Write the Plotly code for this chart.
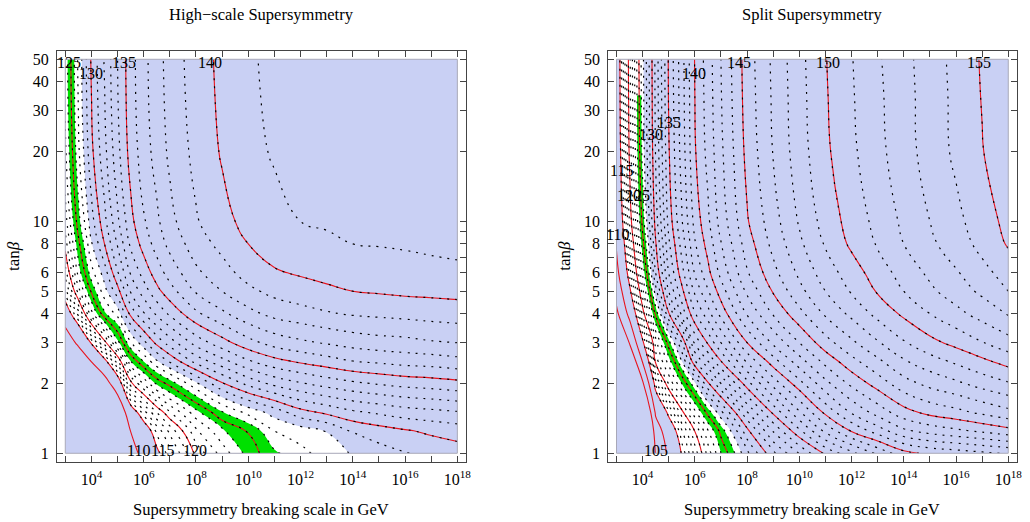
import numpy as np
import plotly.graph_objects as go

# ---------------- data ----------------
LOG_MS = [3, 3.5, 4, 4.5, 5, 5.5, 6, 6.5, 7, 8, 9, 10, 11, 12, 13, 14, 15, 16, 17, 18]
TANB_LEFT = [1, 1.25, 1.5, 2, 2.5, 3, 4, 5, 6, 8, 10, 20, 50]
TANB_RIGHT = [1, 1.25, 1.5, 2, 2.5, 3, 4, 5, 6, 8, 10, 20, 35, 50]

# Higgs mass (GeV): one list per log10(M_S) column, ordered like TANB_LEFT
MH_LEFT_COLS = [
    [70.0, 74.1, 80.5, 92.4, 100.8, 106.5, 113.1, 116.5, 118.5, 120.5, 121.5, 122.8, 123.3],
    [76.0, 79.9, 86.1, 97.5, 105.6, 111.1, 117.4, 121.5, 123.4, 124.7, 125.6, 126.8, 127.25],
    [83.0, 86.6, 92.3, 102.8, 110.3, 115.3, 122.6, 125.2, 126.6, 127.9, 128.6, 129.75, 130.15],
    [90.0, 93.2, 98.3, 107.7, 114.3, 119.5, 125.8, 127.6, 128.5, 130.0, 130.7, 131.7, 132.1],
    [98.0, 100.7, 105.1, 113.1, 118.8, 123.6, 127.4, 129.6, 130.9, 132.1, 132.8, 133.7, 134.0],
    [108.0, 110.1, 113.4, 119.6, 124.0, 126.9, 130.3, 132.1, 133.1, 134.2, 134.7, 135.4, 135.6],
    [111.5, 113.4, 116.5, 122.1, 126.1, 128.7, 131.9, 133.5, 134.4, 135.4, 135.9, 136.5, 136.7],
    [114.5, 116.3, 119.0, 124.2, 127.9, 130.3, 133.2, 134.7, 135.5, 136.4, 136.8, 137.4, 137.6],
    [116.6, 118.3, 120.9, 125.4, 129.2, 131.5, 134.2, 135.6, 136.4, 137.3, 137.7, 138.2, 138.4],
    [120.3, 121.8, 123.6, 127.8, 131.4, 133.4, 135.8, 137.1, 137.8, 138.5, 138.9, 139.3, 139.5],
    [122.4, 123.8, 125.9, 129.9, 132.7, 134.6, 136.8, 138.0, 138.6, 139.3, 139.7, 140.1, 140.25],
    [124.4, 125.1, 127.3, 131.3, 133.9, 135.65, 137.7, 138.75, 139.4, 140.0, 140.3, 140.7, 140.85],
    [125.8, 127.0, 128.4, 132.3, 134.7, 136.4, 138.3, 139.3, 139.9, 140.45, 140.7, 141.1, 141.25],
    [126.7, 127.5, 129.6, 132.9, 135.2, 136.8, 138.6, 139.6, 140.1, 140.7, 141.0, 141.3, 141.45],
    [127.45, 128.05, 130.2, 133.4, 135.6, 137.1, 138.9, 139.8, 140.3, 140.85, 141.1, 141.5, 141.6],
    [128.1, 129.1, 130.8, 133.8, 136.0, 137.4, 139.1, 140.0, 140.5, 141.0, 141.25, 141.6, 141.7],
    [128.55, 129.55, 131.15, 134.1, 136.2, 137.6, 139.2, 140.1, 140.55, 141.05, 141.3, 141.65, 141.75],
    [128.95, 129.9, 131.5, 134.35, 136.4, 137.7, 139.3, 140.2, 140.65, 141.1, 141.4, 141.7, 141.8],
    [129.25, 130.2, 131.7, 134.5, 136.5, 137.9, 139.4, 140.25, 140.7, 141.2, 141.4, 141.75, 141.85],
    [129.5, 130.45, 131.9, 134.7, 136.7, 138.0, 139.5, 140.3, 140.8, 141.25, 141.5, 141.8, 141.9],
]

# ordered like TANB_RIGHT
MH_RIGHT_COLS = [
    [66.0, 69.6, 75.3, 85.7, 93.2, 98.1, 104.0, 106.9, 108.8, 110.4, 111.4, 112.6, 112.9, 113.0],
    [72.0, 75.7, 81.6, 92.45, 100.15, 105.3, 111.35, 114.4, 116.3, 118.0, 119.1, 120.3, 120.6, 120.7],
    [88.0, 90.9, 95.6, 104.25, 110.4, 114.5, 119.3, 121.7, 123.2, 124.6, 125.4, 126.4, 126.6, 126.7],
    [105.6, 107.55, 110.7, 116.4, 120.45, 121.5, 125.3, 127.6, 129.0, 129.9, 130.45, 131.1, 131.25, 131.3],
    [110.9, 112.7, 115.7, 121.1, 123.5, 125.6, 129.9, 132.0, 133.0, 133.8, 134.35, 134.9, 135.1, 135.15],
    [115.2, 116.9, 119.6, 124.0, 127.0, 129.0, 133.3, 134.7, 135.6, 136.4, 136.9, 137.4, 137.55, 137.6],
    [118.4, 120.05, 122.7, 126.8, 130.9, 133.2, 135.9, 137.2, 138.1, 138.9, 139.35, 139.9, 140.0, 140.06],
    [121.4, 122.9, 125.4, 129.8, 133.0, 135.15, 137.6, 138.9, 139.7, 140.4, 140.8, 141.3, 141.45, 141.5],
    [124.0, 125.4, 127.7, 132.0, 135.0, 137.0, 139.35, 140.5, 141.3, 141.95, 142.4, 142.8, 142.95, 143.0],
    [127.8, 129.7, 131.9, 135.6, 138.2, 140.0, 142.1, 143.2, 143.9, 144.5, 144.9, 145.3, 145.45, 145.5],
    [130.8, 133.1, 135.2, 138.4, 140.6, 142.2, 144.1, 145.1, 145.7, 146.3, 146.6, 147.05, 147.15, 147.2],
    [133.05, 135.8, 137.85, 140.65, 142.6, 144.0, 145.7, 146.7, 147.2, 147.8, 148.1, 148.55, 148.65, 148.7],
    [135.2, 138.25, 140.25, 142.7, 144.35, 145.6, 147.15, 148.0, 148.5, 149.1, 149.4, 149.8, 149.9, 149.95],
    [136.7, 140.1, 142.1, 144.25, 145.7, 146.8, 148.25, 149.1, 149.5, 150.2, 150.4, 150.8, 150.9, 150.95],
    [138.2, 141.5, 143.4, 145.45, 146.8, 147.9, 149.3, 150.1, 150.5, 151.1, 151.3, 151.7, 151.8, 151.87],
    [139.65, 142.8, 144.6, 146.6, 147.9, 148.9, 150.2, 151.0, 151.4, 152.0, 152.2, 152.6, 152.65, 152.7],
    [140.25, 143.4, 145.3, 147.3, 148.6, 149.7, 151.0, 151.8, 152.2, 152.8, 153.0, 153.4, 153.45, 153.5],
    [140.5, 143.8, 145.7, 147.8, 149.2, 150.3, 151.7, 152.5, 152.9, 153.5, 153.75, 154.2, 154.25, 154.3],
    [140.8, 144.2, 146.2, 148.4, 149.8, 150.95, 152.4, 153.2, 153.7, 154.3, 154.5, 154.95, 155.05, 155.1],
    [141.1, 144.65, 146.7, 148.9, 150.4, 151.6, 153.1, 154.0, 154.4, 155.1, 155.3, 155.75, 155.85, 155.9],
]

# contour labels
LEFT_LABEL_TEXT = ["125", "130", "135", "140", "110", "115", "120"]
LEFT_LABEL_LOGMS = [3.16, 3.98, 5.26, 8.55, 5.79, 6.72, 7.98]
LEFT_LABEL_TANB = [48.4, 43.3, 48.4, 48.4, 1.03, 1.03, 1.03]

RIGHT_LABEL_TEXT = ["105", "110", "115", "120", "125", "130", "135", "140", "145", "150", "155"]
RIGHT_LABEL_LOGMS = [4.52, 3.04, 3.19, 3.46, 3.84, 4.33, 5.0, 5.97, 7.68, 11.09, 16.89]
RIGHT_LABEL_TANB = [1.03, 8.81, 16.5, 12.9, 12.9, 23.8, 26.7, 43.3, 48.2, 48.2, 48.2]

X_TICKS = list(range(3, 19))
X_TICK_TEXT = ["" if p % 2 else "10<sup>%d</sup>" % p for p in X_TICKS]
Y_TICKS = [1, 2, 3, 4, 5, 6, 7, 8, 9, 10, 20, 30, 40, 50]
Y_TICK_TEXT = ["1", "2", "3", "4", "5", "6", "", "8", "", "10", "20", "30", "40", "50"]

GREEN_BAND = [124, 126]
LEFT_WHITE = [115, 128]
RIGHT_WHITE = [115, 127]
RIGHT_GREEN_MAX_TANB = 35

# ---------------- style ----------------
BLUE = "#c9d0f4"
GREEN = "#00e000"
RED = "#e8141e"
FONT = "Liberation Serif"

fig = go.Figure()


def add_panel(cols, tanb, white, red_start, xa, ya, green_rows):
    z = np.array(cols).T
    y = np.log10(tanb)
    common = dict(x=LOG_MS, xaxis=xa, yaxis=ya, showscale=False, hoverinfo="skip")
    fig.add_trace(go.Contour(
        y=y, z=z, autocontour=False,
        contours=dict(start=white[0], end=white[1], size=white[1] - white[0],
                      coloring="fill", showlines=False),
        colorscale=[[0, BLUE], [0.25, BLUE], [0.25, "white"], [0.75, "white"],
                    [0.75, BLUE], [1, BLUE]],
        line=dict(width=0, smoothing=1.3), **common))
    fig.add_trace(go.Contour(
        y=y[:green_rows], z=z[:green_rows], autocontour=False,
        contours=dict(type="constraint", operation="][", value=GREEN_BAND,
                      showlines=False),
        fillcolor=GREEN, line=dict(width=0, smoothing=1.3), **common))
    fig.add_trace(go.Contour(
        y=y, z=z, autocontour=False,
        contours=dict(start=red_start, end=160, size=5, coloring="none"),
        line=dict(color=RED, width=1.1, smoothing=1.3), **common))
    fig.add_trace(go.Contour(
        y=y, z=z, autocontour=False,
        contours=dict(start=115, end=160, size=1, coloring="none"),
        line=dict(color="black", width=1.2, dash="2px,6px", smoothing=1.3), **common))


add_panel(MH_LEFT_COLS, TANB_LEFT, LEFT_WHITE, 110, "x", "y", len(TANB_LEFT))
add_panel(MH_RIGHT_COLS, TANB_RIGHT, RIGHT_WHITE, 105, "x2", "y2",
          TANB_RIGHT.index(RIGHT_GREEN_MAX_TANB) + 1)

annotations = []
for texts, xs, ys, xr_, yr_ in [
    (LEFT_LABEL_TEXT, LEFT_LABEL_LOGMS, LEFT_LABEL_TANB, "x", "y"),
    (RIGHT_LABEL_TEXT, RIGHT_LABEL_LOGMS, RIGHT_LABEL_TANB, "x2", "y2"),
]:
    for t, lx, ty in zip(texts, xs, ys):
        annotations.append(dict(text=t, x=lx, y=float(np.log10(ty)), xref=xr_, yref=yr_,
                                xanchor="center", yanchor="middle", showarrow=False,
                                font=dict(family=FONT, size=16, color="black")))

for title, cx, ylx in [("High\u2212scale Supersymmetry", 0.2552, 0.0136),
                       ("Split Supersymmetry", 0.7933, 0.5515)]:
    annotations.append(dict(text=title, x=cx, y=0.973, xref="paper", yref="paper",
                            xanchor="center", yanchor="middle", showarrow=False,
                            font=dict(family=FONT, size=16.5, color="black")))
    annotations.append(dict(text="Supersymmetry breaking scale in GeV", x=cx, y=0.023,
                            xref="paper", yref="paper", xanchor="center", yanchor="middle",
                            showarrow=False, font=dict(family=FONT, size=16.5, color="black")))
    annotations.append(dict(text="tan<i>\u03b2</i>", x=ylx, y=0.5096, xref="paper", yref="paper",
                            xanchor="center", yanchor="middle", textangle=-90, showarrow=False,
                            font=dict(family=FONT, size=17, color="black")))

shapes = []
for xr_, yr_, tanb in [("x", "y", TANB_LEFT), ("x2", "y2", TANB_RIGHT)]:
    shapes.append(dict(type="rect", xref=xr_, yref=yr_, x0=LOG_MS[0], x1=LOG_MS[-1],
                       y0=float(np.log10(tanb[0])), y1=float(np.log10(tanb[-1])),
                       line=dict(color="#a8a8b8", width=1), layer="above"))

axis_common = dict(showline=True, linecolor="#444", linewidth=1, mirror="ticks",
                   ticks="inside", ticklen=6, tickcolor="#444", tickwidth=1,
                   showgrid=False, zeroline=False,
                   tickfont=dict(family=FONT, size=16, color="black"))
xr = [2.68, 18.316]
yr = [-0.0354, 1.7361]
fig.update_layout(
    width=1030, height=522, margin=dict(l=0, r=0, t=0, b=0),
    paper_bgcolor="white", plot_bgcolor="white", showlegend=False,
    xaxis=dict(domain=[0.0556, 0.4547], range=xr, tickvals=X_TICKS, ticktext=X_TICK_TEXT,
               anchor="y", ticklabelstandoff=3, **axis_common),
    yaxis=dict(domain=[0.1159, 0.9029], range=yr, tickvals=list(np.log10(Y_TICKS)),
               ticktext=Y_TICK_TEXT, anchor="x", ticklabelstandoff=4, **axis_common),
    xaxis2=dict(domain=[0.5939, 0.9927], range=xr, tickvals=X_TICKS, ticktext=X_TICK_TEXT,
                anchor="y2", ticklabelstandoff=3, **axis_common),
    yaxis2=dict(domain=[0.1159, 0.9029], range=yr, tickvals=list(np.log10(Y_TICKS)),
                ticktext=Y_TICK_TEXT, anchor="x2", ticklabelstandoff=4, **axis_common),
    annotations=annotations,
    shapes=shapes,
)
fig.write_html("out.html")
